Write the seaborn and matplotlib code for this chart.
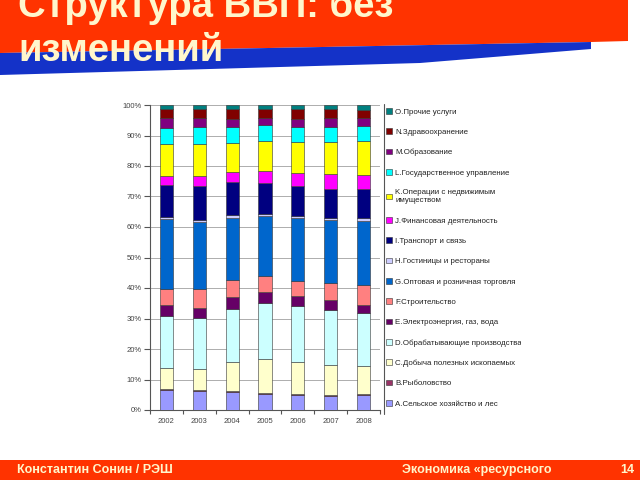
import matplotlib
matplotlib.use("Agg")
import matplotlib.pyplot as plt
from matplotlib.patches import Polygon, Rectangle
from matplotlib.lines import Line2D
import numpy as np
import pandas as pd
import seaborn as sns

# --------------------
# Data (shares of GDP, %)
# --------------------

years = ["2002", "2003", "2004", "2005", "2006", "2007", "2008"]

a_agri = [6.6, 6.2, 5.8, 5.3, 5.0, 4.7, 4.9]
b_fish = [0.3, 0.4, 0.4, 0.4, 0.2, 0.2, 0.2]
c_mining = [6.8, 6.7, 9.4, 11.1, 10.6, 9.9, 9.2]
d_manuf = [17.2, 16.8, 17.5, 18.4, 18.2, 18.1, 17.5]
e_energy = [3.5, 3.5, 3.9, 3.5, 3.3, 3.3, 2.7]
f_constr = [5.3, 6.1, 5.6, 5.1, 5.1, 5.6, 6.6]
g_trade = [22.8, 21.9, 20.4, 19.8, 20.6, 20.5, 21.0]
h_hotels = [0.8, 0.8, 0.8, 0.8, 0.7, 0.8, 0.8]
i_transport = [10.6, 11.0, 11.0, 10.1, 9.7, 9.3, 9.6]
j_finance = [2.8, 3.2, 3.3, 3.8, 4.4, 4.9, 4.6]
k_realty = [10.6, 10.7, 9.6, 9.9, 10.1, 10.7, 11.2]
l_govt = [5.3, 5.6, 5.1, 5.3, 4.9, 4.9, 4.8]
m_educ = [3.0, 2.7, 2.7, 2.4, 2.7, 2.7, 2.6]
n_health = [3.1, 3.1, 3.1, 2.8, 3.1, 3.1, 2.8]
o_other = [1.3, 1.3, 1.3, 1.3, 1.4, 1.3, 1.5]

sector_names = [
    "A.Сельское хозяйство и лес",
    "B.Рыболовство",
    "C.Добыча полезных ископаемых",
    "D.Обрабатывающие производства",
    "E.Электроэнергия, газ, вода",
    "F.Строительство",
    "G.Оптовая и розничная торговля",
    "H.Гостиницы и рестораны",
    "I.Транспорт и связь",
    "J.Финансовая деятельность",
    "K.Операции с недвижимым\nимуществом",
    "L.Государственное управление",
    "M.Образование",
    "N.Здравоохранение",
    "O.Прочие услуги",
]

sector_colors = [
    "#9999FF", "#993366", "#FFFFCC", "#CCFFFF", "#660066",
    "#FF8080", "#0066CC", "#CCCCFF", "#000080", "#FF00FF",
    "#FFFF00", "#00FFFF", "#800080", "#800000", "#008080",
]

ytick_values = [0, 10, 20, 30, 40, 50, 60, 70, 80, 90, 100]
ytick_labels = ["0%", "10%", "20%", "30%", "40%", "50%",
                "60%", "70%", "80%", "90%", "100%"]

title_lines = ["Структура ВВП: без", "изменений"]
footer_left = "Константин Сонин / РЭШ"
footer_mid = "Экономика «ресурсного"
footer_page = "14"

# --------------------
# Style
# --------------------

sns.set_style("white")
plt.rcParams["font.family"] = ["Liberation Sans", "DejaVu Sans"]

RED = "#FF3300"
BLUE = "#1432C8"
CREAM = "#FFF6CC"

fig = plt.figure(figsize=(6.4, 4.8), dpi=100)

# background layer in pixel coordinates for the slide decoration
bg = fig.add_axes([0, 0, 1, 1], zorder=-1)
bg.set_xlim(0, 640)
bg.set_ylim(480, 0)
bg.axis("off")

bg.add_patch(Polygon([(0, 0), (628, 0), (628, 41), (591, 42), (0, 53)],
                     closed=True, color=RED, lw=0))
bg.add_patch(Polygon([(0, 53), (591, 42), (591, 49), (420, 63), (0, 75)],
                     closed=True, color=BLUE, lw=0))
bg.add_patch(Rectangle((0, 460), 640, 20, color=RED, lw=0))

# the slide title runs off the top edge in the original
bg.text(18, 17, title_lines[0], color=CREAM, fontsize=27.5, fontweight="bold",
        va="baseline", ha="left")
bg.text(18, 61, title_lines[1], color=CREAM, fontsize=27.5, fontweight="bold",
        va="baseline", ha="left")

bg.text(17, 473, footer_left, color=CREAM, fontsize=9, fontweight="bold",
        va="baseline", ha="left")
bg.text(402, 473, footer_mid, color=CREAM, fontsize=9, fontweight="bold",
        va="baseline", ha="left")
bg.text(620, 473, footer_page, color=CREAM, fontsize=9, fontweight="bold",
        va="baseline", ha="left")

# --------------------
# Stacked 100% bars
# --------------------

ax = fig.add_axes([150 / 640, 70 / 480, 230 / 640, 305 / 480])

series = [a_agri, b_fish, c_mining, d_manuf, e_energy, f_constr, g_trade,
          h_hotels, i_transport, j_finance, k_realty, l_govt, m_educ,
          n_health, o_other]

bottom = np.zeros(len(years))
for name, vals, col in zip(sector_names, series, sector_colors):
    df = pd.DataFrame({"year": years, "share": vals})
    sns.barplot(data=df, x="year", y="share", color=col, width=0.4,
                bottom=bottom, label=name, ax=ax, edgecolor="#333333",
                linewidth=0.4, saturation=1, zorder=3)
    bottom = bottom + np.array(vals)

ax.set_xlim(-0.5, 6.5)
ax.set_ylim(0, 100)
ax.set_yticks(ytick_values)
ax.set_yticklabels(ytick_labels)
ax.set_xlabel("")
ax.set_ylabel("")

ax.yaxis.grid(True, color="#a0a0a0", linewidth=0.6, zorder=0)
ax.xaxis.grid(False)
for s in ["top", "right"]:
    ax.spines[s].set_visible(False)
for s in ["left", "bottom"]:
    ax.spines[s].set_color("#555555")
    ax.spines[s].set_linewidth(0.8)

ax.tick_params(axis="y", length=4, width=0.8, color="#555555", direction="out",
               labelsize=5.5, labelcolor="#444444", pad=2, left=True)
ax.tick_params(axis="x", which="major", length=0, labelsize=5.5,
               labelcolor="#444444", pad=6)
ax.set_xticks(np.arange(-0.5, 7, 1), minor=True)
ax.tick_params(axis="x", which="minor", length=3, width=0.8,
               color="#555555", direction="out", bottom=True)

# --------------------
# Legend (reverse order, like the Excel chart)
# --------------------

handles, labels = ax.get_legend_handles_labels()
leg = ax.legend(handles[::-1], labels[::-1], loc="upper left",
                bbox_to_anchor=(386 / 640, 1 - 108 / 480),
                bbox_transform=fig.transFigure, frameon=False,
                fontsize=5.7, handlelength=0.75, handleheight=0.75,
                handletextpad=0.4, labelspacing=1.6, borderpad=0,
                borderaxespad=0)
for t in leg.get_texts():
    t.set_color("#222222")

fig.add_artist(Line2D([384 / 640, 384 / 640], [1 - 104 / 480, 1 - 414 / 480],
                      color="#555555", lw=0.8, transform=fig.transFigure))

# clip everything right of the embedded chart picture
fig.add_artist(Rectangle((521 / 640, 1 - 420 / 480), 119 / 640, 320 / 480,
                         transform=fig.transFigure, color="white", lw=0,
                         zorder=10))

fig.savefig("out.png", dpi=100)
